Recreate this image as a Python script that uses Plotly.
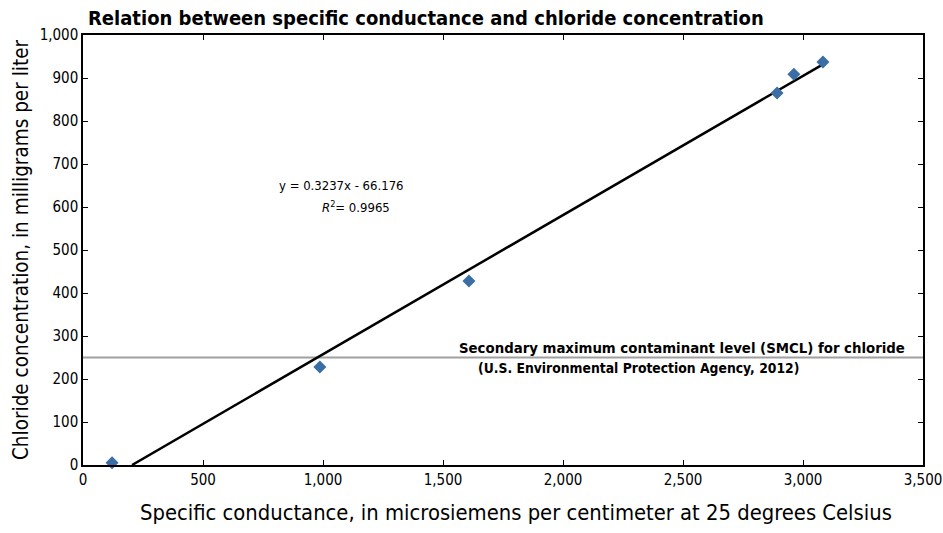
import plotly.graph_objects as go

# Datos
conductance = [121, 987, 1608, 2892, 2962, 3083]
chloride = [5, 228, 428, 865, 909, 937]

slope = 0.3237
intercept = -66.176
r2 = 0.9965
smcl = 250

x_ticks = [0, 500, 1000, 1500, 2000, 2500, 3000, 3500]
y_ticks = [0, 100, 200, 300, 400, 500, 600, 700, 800, 900, 1000]

font_main = "DejaVu Sans Condensed, sans-serif"

fig = go.Figure()

# línea SMCL
fig.add_trace(go.Scatter(
    x=[0, 3500], y=[smcl, smcl], mode='lines',
    line=dict(color='#a0a0a0', width=2), hoverinfo='skip', showlegend=False
))

# recta de regresión desde el corte con y=0 hasta el último punto
x0 = -intercept / slope
x1 = max(conductance)
fig.add_trace(go.Scatter(
    x=[x0, x1], y=[slope * x0 + intercept, slope * x1 + intercept],
    mode='lines', line=dict(color='black', width=2.5),
    hoverinfo='skip', showlegend=False
))

fig.add_trace(go.Scatter(
    x=conductance, y=chloride, mode='markers',
    marker=dict(symbol='diamond', size=10, color='#3b6ea5'),
    showlegend=False, cliponaxis=False
))

axis_common = dict(
    showgrid=False, zeroline=False, showline=True, linecolor='black', linewidth=1.5,
    mirror='ticks', ticks='inside', ticklen=5, tickcolor='black', automargin=False,
    tickfont=dict(family=font_main, size=15, color='black'),
)

fig.update_xaxes(
    range=[0, 3500], tickvals=x_ticks,
    ticktext=[f"{v:,}" for v in x_ticks],
    **axis_common
)
fig.update_yaxes(
    range=[0, 1000], tickvals=y_ticks,
    ticktext=[f"{v:,}" for v in y_ticks],
    title=dict(text='Chloride concentration, in milligrams per liter',
               font=dict(family=font_main, size=20.5, color='black'), standoff=5),
    **axis_common
)

# título del eje x como anotación (en el original no está centrado en el área)
fig.add_annotation(
    x=0.5155, y=-0.1116, xref='paper', yref='paper', showarrow=False,
    xanchor='center', yanchor='middle',
    text='Specific conductance, in microsiemens per centimeter at 25 degrees Celsius',
    font=dict(family=font_main, size=21.8, color='black')
)

fig.add_annotation(
    x=1079, y=651, xref='x', yref='y', showarrow=False,
    text=f"y = {slope}x - {-intercept}",
    font=dict(family=font_main, size=13, color='black')
)
fig.add_annotation(
    x=1137, y=600, xref='x', yref='y', showarrow=False,
    text=f"<i>R</i><sup>2</sup>= {r2}",
    font=dict(family=font_main, size=13, color='black')
)
fig.add_annotation(
    x=3433, y=274, xref='x', yref='y', xanchor='right', showarrow=False,
    text="<b>Secondary maximum contaminant level (SMCL) for chloride</b>",
    font=dict(family=font_main, size=14.8, color='black')
)
fig.add_annotation(
    x=1637, y=225, xref='x', yref='y', xanchor='left', showarrow=False,
    text="<b>(U.S. Environmental Protection Agency, 2012)</b>",
    font=dict(family=font_main, size=13.8, color='black')
)

fig.update_layout(
    width=943, height=533,
    margin=dict(l=83, r=20, t=35, b=68),
    plot_bgcolor='white', paper_bgcolor='white',
    title=dict(text='<b>Relation between specific conductance and chloride concentration</b>',
               x=88 / 943, xref='container', xanchor='left',
               y=1 - 18 / 533, yref='container', yanchor='middle',
               font=dict(family=font_main, size=20, color='black')),
)

# quitar el margen por defecto del body para que la figura ocupe toda la ventana
fig.write_html("out.html", config={'displayModeBar': False},
               post_script="document.body.style.margin='0px';")
